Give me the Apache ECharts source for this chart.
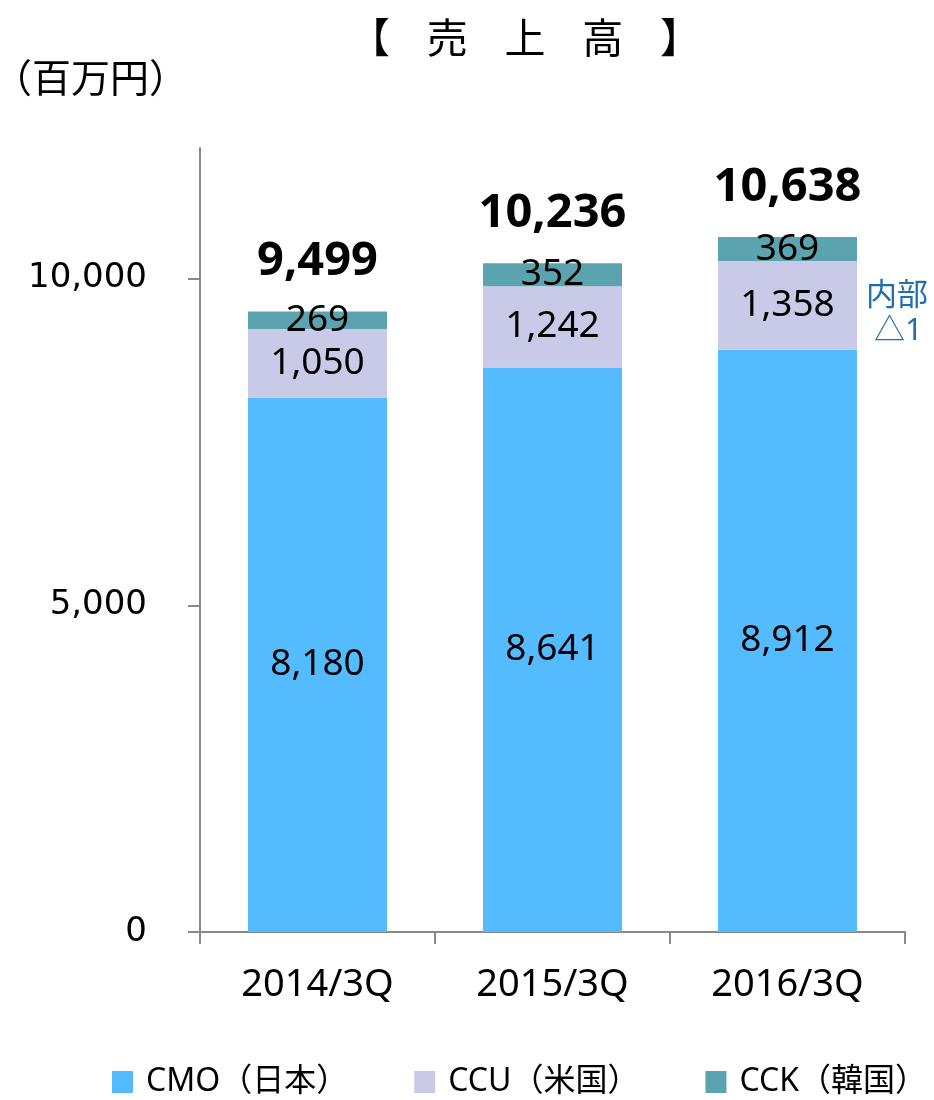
<!DOCTYPE html>
<html>
<head>
<meta charset="utf-8">
<script src="https://cdn.jsdelivr.net/npm/echarts@6/dist/echarts.min.js"></script>
<style>
  html, body { margin: 0; padding: 0; background: #fff; }
  #chart { width: 934px; height: 1100px; }
</style>
</head>
<body>
<div id="chart"></div>
<script>
const categories = ["2014/3Q", "2015/3Q", "2016/3Q"];
const seriesNames = ["CMO（日本）", "CCU（米国）", "CCK（韓国）"];
const cmo = [8180, 8641, 8912];
const ccu = [1050, 1242, 1358];
const cck = [269, 352, 369];
const totals = [9499, 10236, 10638];
const yTicks = [0, 5000, 10000];

const font = "'Noto Sans', 'Noto Sans CJK JP', sans-serif";
const axisGray = "#898989";
const colors = ["#55BBFF", "#C9CAE8", "#5BA3AE"];

const fmt = (v) => v.toLocaleString("en-US");

const chart = echarts.init(document.getElementById("chart"));

function segment(name, data, color) {
  return {
    name: name,
    type: "bar",
    stack: "sales",
    barWidth: 139,
    data: data,
    itemStyle: { color: color },
    label: {
      show: true,
      position: "inside",
      color: "#000",
      fontFamily: font,
      fontSize: 37,
      formatter: (p) => fmt(p.value),
    },
  };
}

const option = {
  backgroundColor: "#fff",
  animation: false,
  title: {
    text: "【    売    上    高    】",
    left: 344,
    top: 12,
    textStyle: { fontFamily: "'Noto Sans CJK JP'", fontSize: 41, fontWeight: "normal", color: "#000" },
  },
  grid: { left: 200, right: 29, top: 148, bottom: 168 },
  legend: {
    data: seriesNames,
    left: 112,
    top: 1066,
    padding: 0,
    itemWidth: 21,
    itemHeight: 22,
    itemGap: 66,
    icon: "rect",
    textStyle: { fontFamily: font, fontSize: 32, color: "#000", padding: [0, 0, 0, 8] },
  },
  xAxis: {
    type: "category",
    data: categories,
    axisLine: { lineStyle: { color: axisGray, width: 2 } },
    axisTick: { show: true, length: 12, lineStyle: { color: axisGray, width: 2 } },
    axisLabel: { color: "#000", fontFamily: font, fontSize: 38, margin: 34 },
  },
  yAxis: {
    type: "value",
    min: 0,
    max: 12000,
    interval: 5000,
    splitLine: { show: false },
    axisLine: { show: true, lineStyle: { color: axisGray, width: 2 } },
    axisTick: { show: true, length: 12, customValues: yTicks, lineStyle: { color: axisGray, width: 2 } },
    axisLabel: {
      color: "#000",
      fontFamily: "'DejaVu Sans'",
      fontSize: 34,
      margin: 53,
      customValues: yTicks,
      formatter: (v) => fmt(v),
    },
  },
  graphic: [
    {
      type: "text",
      x: -7,
      y: 58,
      style: { text: "（百万円）", font: "39px 'Noto Sans CJK JP'", fill: "#000" },
    },
    {
      type: "text",
      left: 866,
      top: 278,
      style: { text: "内部", font: "31px 'Noto Sans CJK JP'", fill: "#1F6EB2" },
    },
    {
      type: "text",
      left: 874,
      top: 316,
      style: { text: "△1", font: "31px 'Noto Sans', 'Noto Sans CJK JP'", fill: "#1F6EB2" },
    },
  ],
  series: [
    segment(seriesNames[0], cmo, colors[0]),
    segment(seriesNames[1], ccu, colors[1]),
    segment(seriesNames[2], cck, colors[2]),
    {
      name: "total",
      type: "bar",
      stack: "sales",
      barWidth: 139,
      data: totals.map(() => 0),
      itemStyle: { color: "transparent" },
      label: {
        show: true,
        position: "top",
        distance: 26,
        color: "#000",
        fontFamily: font,
        fontWeight: "bold",
        fontSize: 47,
        formatter: (p) => fmt(totals[p.dataIndex]),
      },
    },
  ],
};

chart.setOption(option);
</script>
</body>
</html>
